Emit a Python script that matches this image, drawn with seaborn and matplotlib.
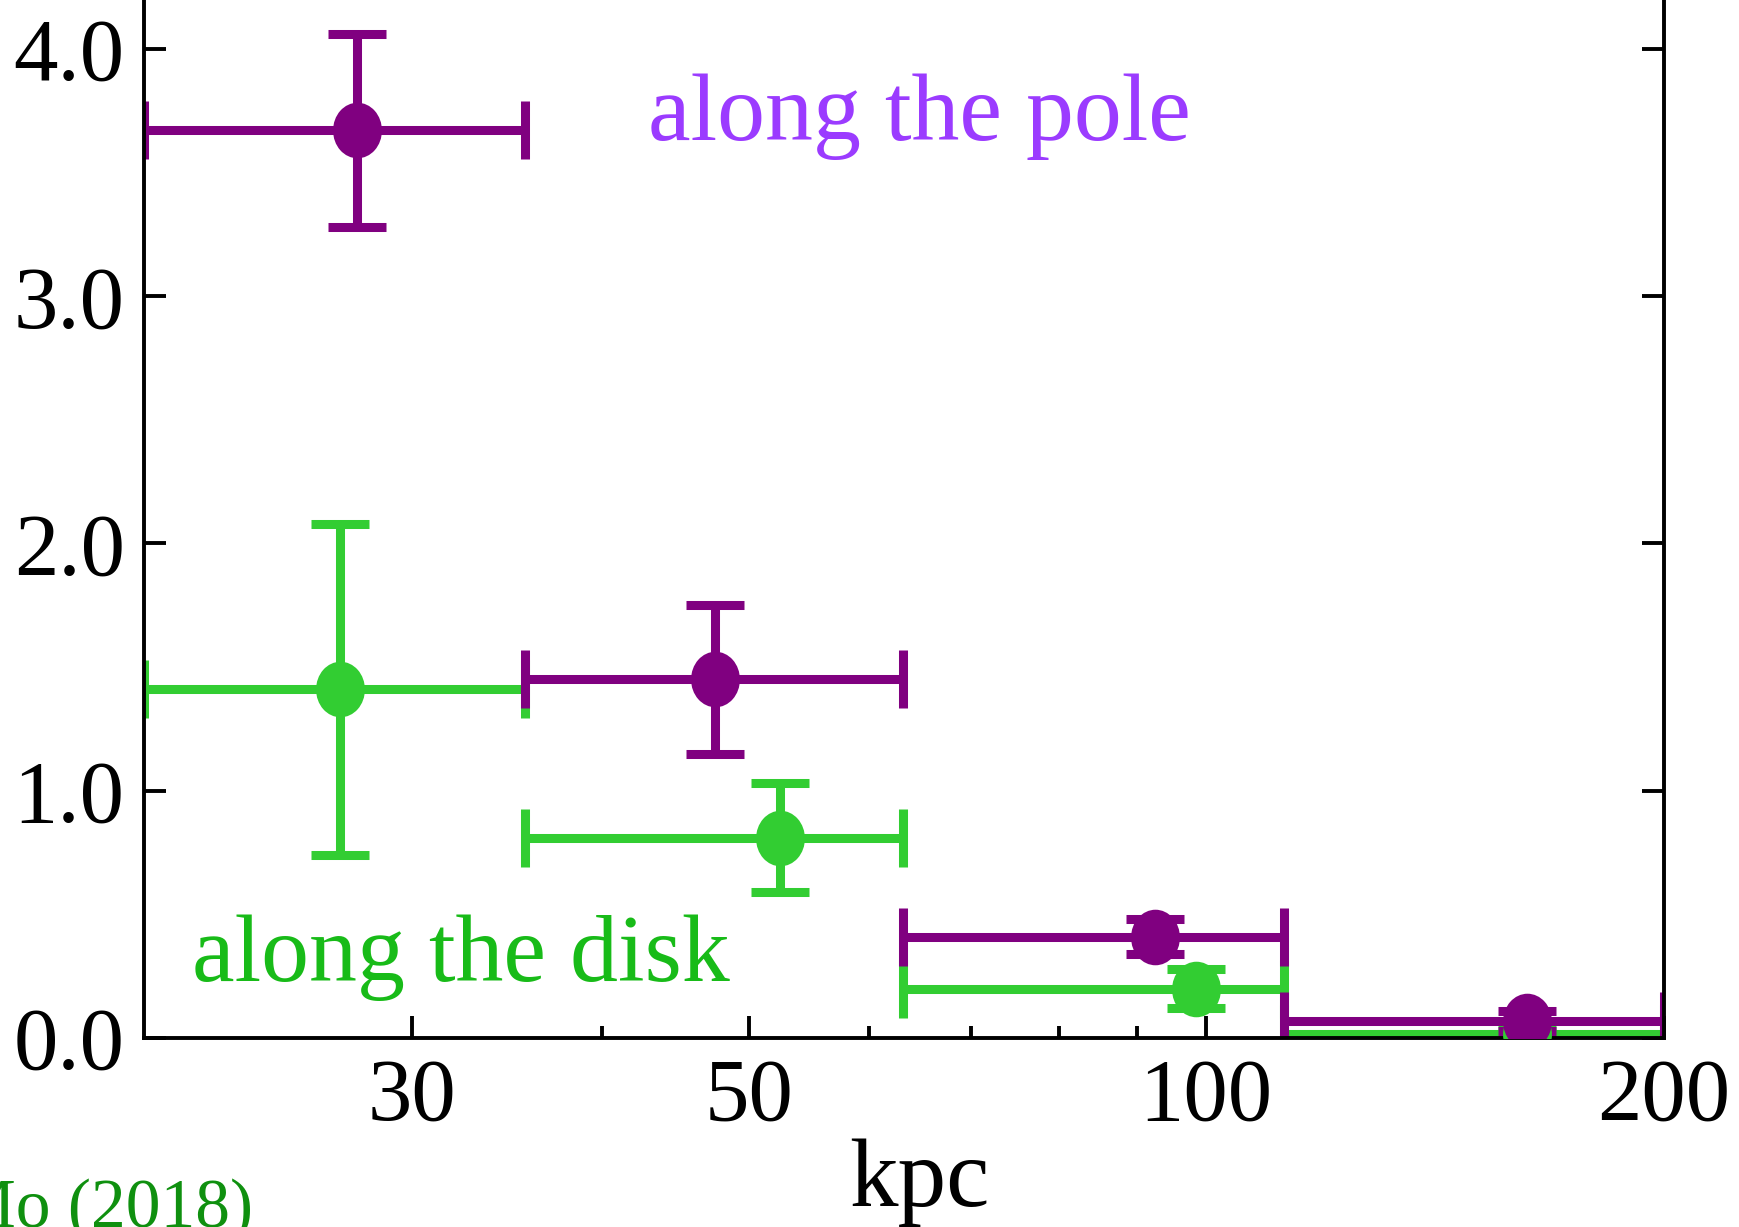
import matplotlib
matplotlib.use('Agg')
import matplotlib.pyplot as plt
import matplotlib.ticker as mticker
from matplotlib.path import Path
from matplotlib.transforms import Affine2D
import seaborn as sns
import pandas as pd

# === 1. Data ===
bin_lo = [20.0, 35.6, 63.2, 112.5]
bin_hi = [35.6, 63.2, 112.5, 200.0]

pole_r = [27.6, 47.5, 92.5, 162.5]
pole_val = [3.67, 1.45, 0.41, 0.07]
pole_err = [0.39, 0.30, 0.07, 0.04]

disk_r = [26.9, 52.4, 98.5, 162.5]
disk_val = [1.41, 0.81, 0.20, 0.015]
disk_err = [0.67, 0.22, 0.08, 0.03]

pole = pd.DataFrame({'r': pole_r, 'val': pole_val, 'err': pole_err,
                     'lo': bin_lo, 'hi': bin_hi})
disk = pd.DataFrame({'r': disk_r, 'val': disk_val, 'err': disk_err,
                     'lo': bin_lo, 'hi': bin_hi})

c_pole = '#800080'
c_disk = '#32CD32'

# === 2. Style ===
sns.set_style('ticks')
plt.rcParams['font.family'] = ['Liberation Serif', 'DejaVu Serif']
for k in ['text.color', 'axes.labelcolor', 'xtick.color', 'ytick.color', 'axes.edgecolor']:
    plt.rcParams[k] = 'black'

fig = plt.figure(figsize=(17.39, 12.27), dpi=100)
ax = fig.add_axes([0.0829, 0.154, 0.8737, 0.907])

# slightly tall dots, as in the original
dot = Path.unit_circle().transformed(Affine2D().scale(0.88, 1.0))

# === 3. Error bars + markers ===
for df, col in [(disk, c_disk), (pole, c_pole)]:
    xerr = [df['r'] - df['lo'], df['hi'] - df['r']]
    ax.errorbar(df['r'], df['val'], xerr=xerr, yerr=df['err'], fmt='none',
                ecolor=col, elinewidth=6.5, capsize=21, capthick=6.5, zorder=2)
    sns.scatterplot(data=df, x='r', y='val', color=col, s=40 ** 2, marker=dot,
                    linewidth=0, ax=ax, zorder=3, legend=False)

# === 4. Axes ===
ax.set_xscale('log')
ax.set_xlim(20, 200)
ax.set_ylim(0, 4.5)
ax.xaxis.set_major_locator(mticker.FixedLocator([30, 50, 100, 200]))
ax.xaxis.set_major_formatter(mticker.FixedFormatter(['30', '50', '100', '200']))
ax.xaxis.set_minor_locator(mticker.FixedLocator([40, 60, 70, 80, 90]))
ax.xaxis.set_minor_formatter(mticker.NullFormatter())
ax.set_yticks([0, 1, 2, 3, 4])
ax.set_yticklabels(['0.0', '1.0', '2.0', '3.0', '4.0'])

ax.tick_params(which='both', direction='in', top=True, right=True,
               labelsize=64, width=2.8)
ax.tick_params(which='major', length=16, pad=14)
ax.tick_params(which='minor', length=9)
for s in ax.spines.values():
    s.set_linewidth(2.8)
    s.set_visible(True)

ax.set_xlabel('kpc', fontsize=70, labelpad=0)
ax.xaxis.label.set_x(0.51)
ax.set_ylabel('')

# === 5. Annotations ===
ax.text(42.9, 3.63, 'along the pole', fontsize=69, color='#9B3BFF',
        ha='left', va='baseline')
ax.text(21.5, 0.229, 'along the disk', fontsize=69, color='#18BB18',
        ha='left', va='baseline')
# source note, cut off by the left edge as in the original
fig.text(0.1454, 0.0, 'Mo (2018)', fontsize=50, color='#0F900F',
         ha='right', va='baseline')

plt.savefig('out.png', dpi=100)
